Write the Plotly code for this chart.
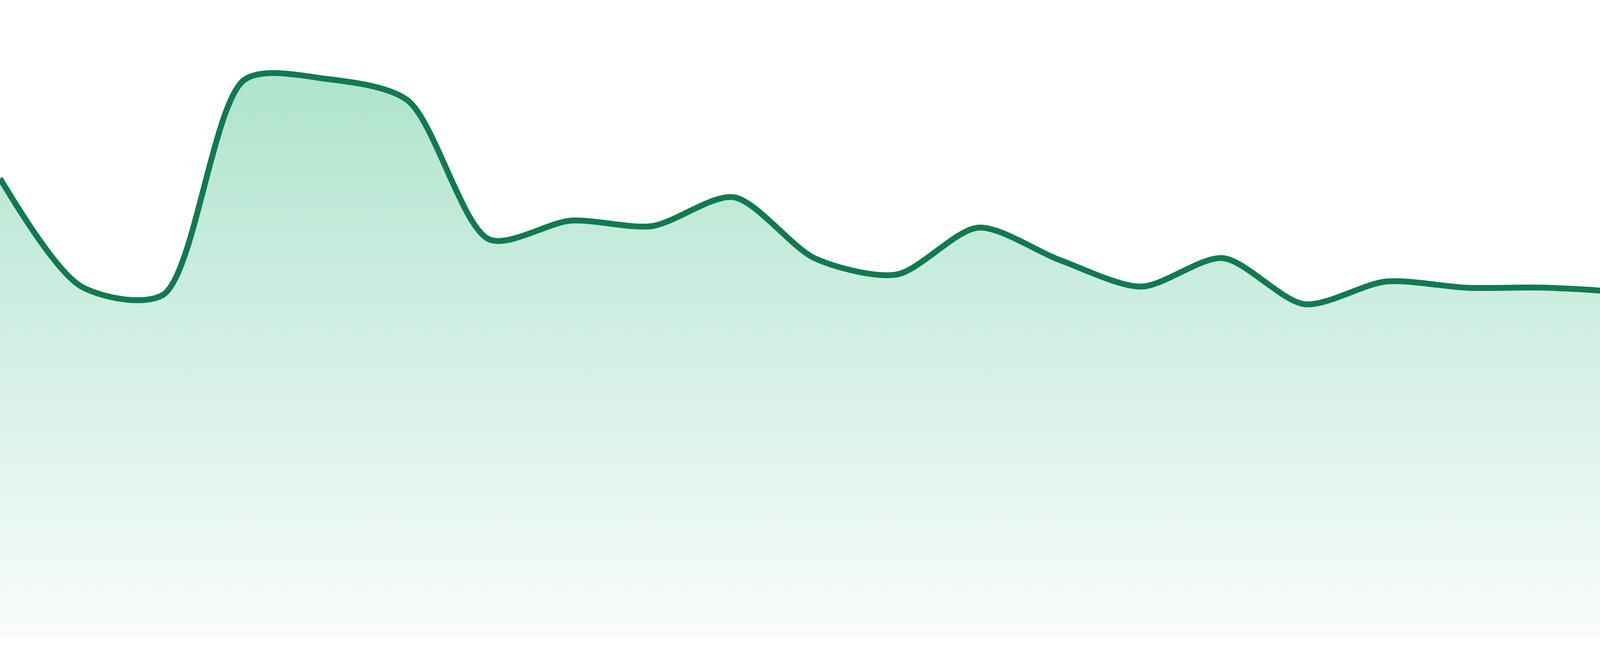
import plotly.graph_objects as go

# 24 evenly spaced samples (arbitrary units)
points = list(range(24))
values = [117.5, 89.8, 87.7, 142.8, 143.0, 137.5, 101.9, 106.7,
          105.3, 112.7, 97.0, 92.9, 104.9, 96.6, 89.8, 97.1,
          85.3, 91.1, 89.5, 89.5, 87.6, 78.6, 68.8, 71.4]

line_color = "#117A51"
fill_top = "#AFE4CE"
fill_bottom = "#F9FCFB"

fig = go.Figure()
fig.add_trace(go.Scatter(
    x=points,
    y=values,
    mode="lines",
    line=dict(color=line_color, width=15, shape="spline", smoothing=0.8),
    fill="tozeroy",
    fillgradient=dict(type="vertical",
                      colorscale=[[0, fill_bottom], [1, fill_top]],
                      start=0, stop=max(values)),
    hoverinfo="skip",
    showlegend=False,
))

fig.update_layout(
    width=4800, height=1680,
    margin=dict(l=0, r=0, t=0, b=48, pad=0),
    paper_bgcolor="white",
    plot_bgcolor="white",
    xaxis=dict(range=[0, 23], visible=False, fixedrange=True),
    yaxis=dict(range=[0, 163.2], visible=False, fixedrange=True),
)

fig.write_html(
    "out.html",
    config={"displayModeBar": False},
    post_script="document.body.style.margin='0';document.body.style.overflow='hidden';",
)
